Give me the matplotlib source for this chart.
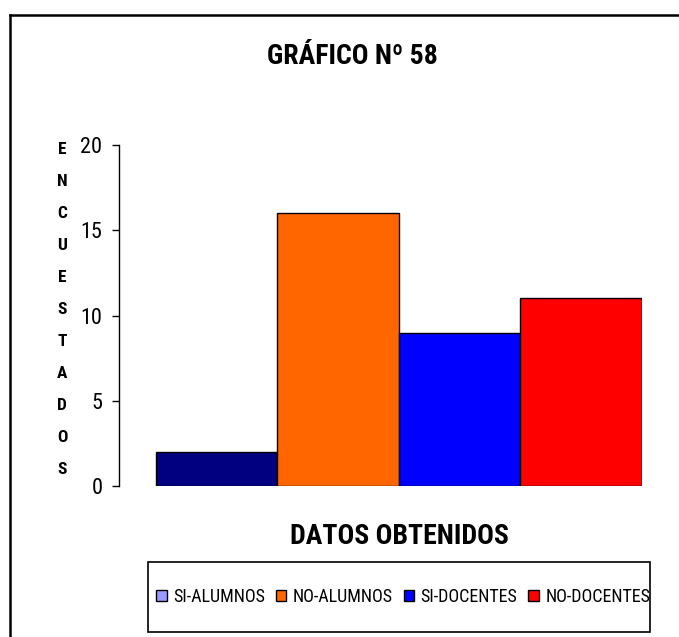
import matplotlib
matplotlib.use("Agg")
import matplotlib.pyplot as plt
from matplotlib.patches import Rectangle, Patch
from matplotlib.lines import Line2D

# datos del grafico
CATEGORIES = ["SI-ALUMNOS", "NO-ALUMNOS", "SI-DOCENTES", "NO-DOCENTES"]
VALUES = [2, 16, 9, 11]
BAR_COLORS = ["#000080", "#FF6600", "#0000FF", "#FF0000"]
LEGEND_COLORS = ["#9999FF", "#FF6600", "#0000FF", "#FF0000"]
Y_TICKS = [0, 5, 10, 15, 20]
TITLE = "GRÁFICO Nº 58"
X_LABEL = "DATOS OBTENIDOS"
Y_LABEL = "ENCUESTADOS"

FONT = ["Roboto Condensed", "DejaVu Sans"]

W, H = 679, 637
fig = plt.figure(figsize=(W / 100, H / 100), dpi=100)


def fx(px):
    return px / W


def fy(py):
    return 1 - py / H


# area del grafico
ax = fig.add_axes([fx(119), fy(486), fx(642) - fx(119), fy(145) - fy(486)])
x = list(range(len(VALUES)))
ax.bar(x, VALUES, width=1.0, color=BAR_COLORS, edgecolor="black", linewidth=1.0)
ax.set_xlim(-0.803, 3.5)
ax.set_ylim(0, 20)
ax.set_yticks(Y_TICKS)
ax.set_yticklabels([str(t) for t in Y_TICKS], fontsize=16, family=FONT)
ax.tick_params(axis="y", direction="out", length=5, width=1, pad=7)
ax.set_xticks([])
for s in ["top", "right", "bottom"]:
    ax.spines[s].set_visible(False)
ax.spines["left"].set_linewidth(1)

# titulo y etiquetas
fig.text(fx(352), fy(57), TITLE, ha="center", va="center",
         fontsize=20, fontweight="bold", family=FONT)
fig.text(fx(399), fy(537), X_LABEL, ha="center", va="center",
         fontsize=20, fontweight="bold", family=FONT)

# etiqueta vertical letra por letra
y0, y1 = 150, 469
step = (y1 - y0) / (len(Y_LABEL) - 1)
for i, ch in enumerate(Y_LABEL):
    fig.text(fx(62), fy(y0 + i * step), ch, ha="center", va="center",
             fontsize=12.5, fontweight="bold", family=FONT)

# leyenda
handles = [Patch(facecolor=c, edgecolor="black", linewidth=1) for c in LEGEND_COLORS]
fig.legend(handles, CATEGORIES, loc="center", bbox_to_anchor=(fx(403), fy(597)),
           ncol=4, frameon=False, handlelength=0.6, handleheight=0.6,
           handletextpad=0.35, columnspacing=0.6,
           prop={"family": FONT, "size": 13})
fig.add_artist(Rectangle((fx(148), fy(632)), fx(650) - fx(148), fy(562) - fy(632),
                         transform=fig.transFigure, fill=False,
                         edgecolor="black", linewidth=1.2))

# borde exterior
fig.add_artist(Line2D([fx(10), fx(10)], [fy(15), 0], transform=fig.transFigure,
                      color="black", linewidth=1.8))
fig.add_artist(Line2D([fx(10), 1], [fy(15), fy(15)], transform=fig.transFigure,
                      color="black", linewidth=1.8))

fig.savefig("out.png", dpi=100, facecolor="white")
